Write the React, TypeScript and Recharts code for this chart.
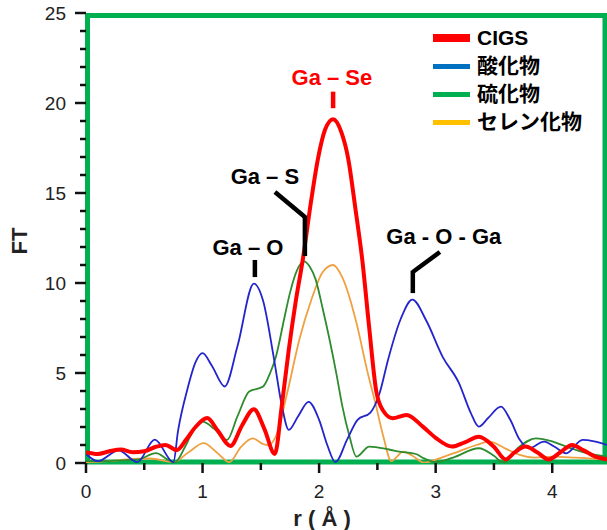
import React from 'react';
import { LineChart, Line, XAxis, YAxis, ReferenceArea, ReferenceLine, ReferenceDot, Label } from 'recharts';

const seriesNames = ['CIGS', '酸化物', '硫化物', 'セレン化物'];
const legendColors = ['#FF0000', '#0070C0', '#00B050', '#FFC000'];
const lineColors = ['#FF0000', '#2424CC', '#2E8B2E', '#F0A040'];
const lineWidths = [4, 1.8, 1.8, 1.8];
const legendSwatch = [8, 5, 5, 5];

const cigs: [number, number][] = [
  [0, 0.6], [0.1, 0.5], [0.2, 0.65], [0.3, 0.75], [0.4, 0.6], [0.5, 0.65], [0.6, 0.9], [0.68, 1.0],
  [0.78, 0.72], [0.86, 1.3], [0.94, 2.0], [1.04, 2.5], [1.13, 1.8], [1.24, 0.95], [1.34, 2.1],
  [1.44, 2.99], [1.53, 1.9], [1.62, 0.5], [1.68, 3.2], [1.74, 6.3], [1.8, 9.0], [1.86, 11.3],
  [1.93, 14.5], [1.99, 16.9], [2.05, 18.5], [2.12, 19.1], [2.19, 18.4], [2.25, 16.9], [2.31, 14.2],
  [2.37, 11.3], [2.43, 7.5], [2.49, 4.0], [2.55, 2.9], [2.63, 2.49], [2.75, 2.67], [2.89, 2.02],
  [3.0, 1.4], [3.14, 0.91], [3.25, 1.15], [3.37, 1.46], [3.5, 0.9], [3.6, 0.2], [3.68, 0.6],
  [3.77, 0.91], [3.87, 0.6], [3.97, 0.2], [4.07, 0.6], [4.17, 1.0], [4.27, 0.7], [4.37, 0.35], [4.47, 0.2],
];

const oxide: [number, number][] = [
  [0, 0.5], [0.1, 0.1], [0.28, 0.7], [0.44, 0.05], [0.59, 1.3], [0.75, 0.05], [0.79, 1.8], [0.87, 4.1],
  [0.94, 5.6], [1.0, 6.1], [1.08, 5.4], [1.19, 4.25], [1.3, 6.5], [1.44, 9.97], [1.52, 9.0], [1.61, 5.9],
  [1.68, 3.2], [1.74, 1.84], [1.82, 2.6], [1.91, 3.4], [2.0, 2.4], [2.07, 1.0], [2.14, 0.05], [2.24, 1.3],
  [2.33, 2.4], [2.44, 2.8], [2.52, 3.9], [2.59, 5.7], [2.7, 8.0], [2.8, 9.08], [2.92, 7.9], [3.06, 5.9],
  [3.2, 4.44], [3.3, 2.8], [3.37, 2.02], [3.45, 2.5], [3.56, 3.13], [3.64, 2.4], [3.72, 1.3], [3.8, 0.82],
  [3.93, 1.19], [4.02, 0.9], [4.12, 0.54], [4.26, 1.28], [4.36, 1.2], [4.47, 1.0],
];

const sulfide: [number, number][] = [
  [0, 0.1], [0.15, 0.1], [0.3, 0.15], [0.45, 0.2], [0.6, 0.55], [0.7, 0.2], [0.76, 0.02], [0.85, 0.9],
  [0.92, 1.8], [1.0, 2.3], [1.1, 1.9], [1.21, 1.28], [1.3, 2.6], [1.4, 3.97], [1.52, 4.25], [1.58, 5.0],
  [1.63, 5.92], [1.7, 8.0], [1.75, 9.45], [1.81, 10.7], [1.87, 11.2], [1.92, 10.9], [1.97, 10.2],
  [2.03, 8.6], [2.09, 6.85], [2.15, 4.9], [2.2, 3.13], [2.26, 1.5], [2.32, 0.35], [2.43, 0.91],
  [2.6, 0.75], [2.69, 0.63], [2.83, 0.5], [2.9, 0.26], [3.0, 0.05], [3.15, 0.3], [3.37, 0.82],
  [3.5, 0.4], [3.58, 0.02], [3.7, 0.8], [3.86, 1.37], [4.0, 1.2], [4.12, 0.91], [4.3, 0.55], [4.47, 0.35],
];

const selenide: [number, number][] = [
  [0, 0.05], [0.2, 0.1], [0.35, 0.2], [0.55, 0.25], [0.75, 0.05], [0.88, 0.6], [1.01, 1.1], [1.12, 0.6],
  [1.23, 0.05], [1.33, 0.9], [1.43, 1.37], [1.52, 1.05], [1.57, 1.0], [1.63, 1.5], [1.73, 4.0],
  [1.83, 6.85], [1.93, 9.0], [2.03, 10.6], [2.12, 11.0], [2.2, 10.3], [2.32, 7.8], [2.41, 5.2],
  [2.49, 3.13], [2.55, 1.5], [2.62, 0.1], [2.66, 0.3], [2.72, 0.63], [2.8, 0.4], [2.9, 0.02], [3.05, 0.3],
  [3.2, 0.65], [3.35, 1.0], [3.46, 1.19], [3.6, 0.8], [3.72, 0.45], [3.85, 0.3], [4.0, 0.35], [4.2, 0.3], [4.47, 0.2],
];

const seriesData = [cigs, oxide, sulfide, selenide];
const drawOrder = [3, 2, 1, 0];

const xTicks = [0, 0.5, 1, 1.5, 2, 2.5, 3, 3.5, 4];
const yTicks = [0, 1, 2, 3, 4, 5, 6, 7, 8, 9, 10, 11, 12, 13, 14, 15, 16, 17, 18, 19, 20, 21, 22, 23, 24, 25];
const xDomain = [0, 4.47];
const yDomain = [0, 25];

// annotations: [text, x, y, color]
const annoTexts: [string, number, number, string][] = [
  ['Ga – Se', 2.11, 21.44, '#FF0000'],
  ['Ga – S', 1.535, 15.94, '#000000'],
  ['Ga – O', 1.389, 12.0, '#000000'],
  ['Ga - O - Ga', 3.07, 12.61, '#000000'],
];
// leader segments: [x1, y1, x2, y2, color]
const annoLines: [number, number, number, number, string][] = [
  [2.12, 19.71, 2.12, 20.63, '#FF0000'],
  [1.621, 15.06, 1.878, 13.67, '#000000'],
  [1.878, 13.75, 1.878, 11.5, '#000000'],
  [1.449, 10.33, 1.449, 11.28, '#000000'],
  [3.036, 11.72, 2.804, 10.61, '#000000'],
  [2.804, 10.69, 2.804, 9.44, '#000000'],
];

const latin = '"Liberation Sans", Arial, "Noto Sans CJK JP", sans-serif';

const YTick = (props: any) => {
  const { x, y, payload } = props;
  const v = payload.value;
  const major = v % 5 === 0;
  return (
    <g>
      <line x1={x - (major ? 11 : 6)} x2={x} y1={y} y2={y} stroke="#111" strokeWidth={2.5} />
      {major && (
        <text x={x - 20} y={y} dy="0.36em" textAnchor="end" fontSize={19} fontFamily={latin} fill="#222">
          {v}
        </text>
      )}
    </g>
  );
};

const XTick = (props: any) => {
  const { x, y, payload } = props;
  const v = payload.value;
  const major = Number.isInteger(v);
  return (
    <g>
      <line x1={x} x2={x} y1={y} y2={y + (major ? 10 : 7)} stroke="#111" strokeWidth={2.5} />
      {major && (
        <text x={x} y={y + 28} dy="0.36em" textAnchor="middle" fontSize={19} fontFamily={latin} fill="#222">
          {v}
        </text>
      )}
    </g>
  );
};

const Frame = (props: any) => {
  const { x, y, width, height } = props;
  return (
    <rect x={x + 1.5} y={y + 2.5} width={width - 3.5} height={height - 3.5} fill="none" stroke="#00B050" strokeWidth={5} />
  );
};

export default function App() {
  return (
    <div style={{ position: 'absolute', left: 0, top: 0, width: 607, height: 530, background: '#fff' }}>
      <LineChart width={607} height={530} margin={{ top: 13, right: 0, bottom: 0, left: 0 }}>
        <XAxis
          dataKey="r"
          type="number"
          domain={xDomain}
          ticks={xTicks}
          interval={0}
          allowDataOverflow
          axisLine={false}
          tickLine={false}
          tickSize={0}
          tickMargin={0}
          tick={<XTick />}
          height={67}
        >
          <Label
            content={(p: any) => (
              <text x={p.viewBox.x + 236} y={p.viewBox.y + 55} dy="0.36em" textAnchor="middle" fontSize={22} fontWeight="bold" fontFamily={latin} fill="#222">
                r ( Å )
              </text>
            )}
          />
        </XAxis>
        <YAxis
          type="number"
          domain={yDomain}
          ticks={yTicks}
          interval={0}
          allowDataOverflow
          axisLine={false}
          tickLine={false}
          tickSize={0}
          tickMargin={0}
          tick={<YTick />}
          width={86}
        >
          <Label
            content={() => (
              <text x={19} y={241} dy="0.36em" textAnchor="middle" fontSize={22} fontWeight="bold" fontFamily={latin} fill="#222" transform="rotate(-90 19 241)">
                FT
              </text>
            )}
          />
        </YAxis>
        {drawOrder.map((i) => (
          <Line
            key={seriesNames[i]}
            data={seriesData[i].map(([r, ft]) => ({ r, ft }))}
            dataKey="ft"
            name={seriesNames[i]}
            type="monotone"
            stroke={lineColors[i]}
            strokeWidth={lineWidths[i]}
            dot={false}
            activeDot={false}
            isAnimationActive={false}
          />
        ))}
        {annoLines.map(([x1, y1, x2, y2, c], k) => (
          <ReferenceLine
            key={'l' + k}
            segment={[{ x: x1, y: y1 }, { x: x2, y: y2 }]}
            stroke={c}
            strokeWidth={4.5}
            ifOverflow="visible"
          />
        ))}
        {annoTexts.map(([t, x, y, c]) => (
          <ReferenceDot
            key={t}
            x={x}
            y={y}
            r={0}
            fill="none"
            stroke="none"
            ifOverflow="visible"
            label={{ value: t, position: 'center', fill: c, fontSize: 22, fontWeight: 'bold', fontFamily: latin }}
          />
        ))}
        <ReferenceArea x1={xDomain[0]} x2={xDomain[1]} y1={yDomain[0]} y2={yDomain[1]} ifOverflow="visible" shape={<Frame />} />
      </LineChart>
      <div style={{ position: 'absolute', left: 433, top: 24, fontFamily: latin, fontWeight: 'bold', fontSize: 21, color: '#000' }}>
        {seriesNames.map((n, i) => (
          <div key={n} style={{ display: 'flex', alignItems: 'center', height: 28 }}>
            <div style={{ width: 37, height: legendSwatch[i], background: legendColors[i], marginRight: 7 }} />
            <span style={{ lineHeight: '28px' }}>{n}</span>
          </div>
        ))}
      </div>
    </div>
  );
}
